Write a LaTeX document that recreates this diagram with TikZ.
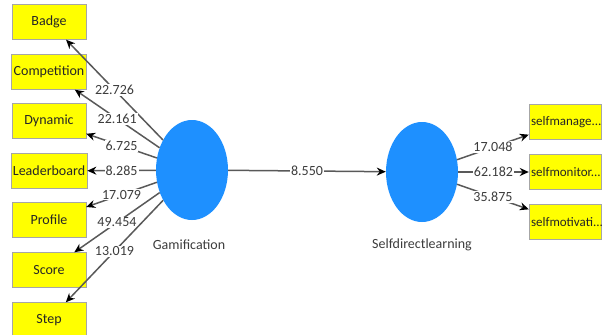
\documentclass[tikz,border=0pt]{standalone}
\usepackage{fontspec}
\setmainfont{Carlito}
\usepackage{tikz}
\usetikzlibrary{arrows.meta, shapes.geometric, positioning}
\definecolor{lvblue}{RGB}{30,144,255}
\definecolor{boxyellow}{RGB}{255,255,0}
\definecolor{numgray}{RGB}{60,60,60}
\begin{document}
\begin{tikzpicture}[x=1pt,y=-1pt,
    indbox/.style={draw=gray!70,fill=boxyellow,minimum width=74pt,minimum height=35pt,inner sep=2pt,text=black!85,font=\fontsize{14}{15}\selectfont},
    latent/.style={ellipse,fill=lvblue,minimum width=72pt,minimum height=100pt},
    path/.style={draw=gray!70!black,line width=1.5pt,-{Stealth[black,length=9pt,width=8pt]}},
    coef/.style={midway,fill=white,inner sep=1pt,text=numgray,font=\fontsize{14}{15}\selectfont}]

            % Khung hình
            \useasboundingbox (0,0) rectangle (603,335);

            % Vẽ hai biến tiềm ẩn
            \node[latent] (gam) at (192,170) {};
            \node[latent] (sdl) at (422,172) {};
            \node[text=numgray,font=\fontsize{14}{15}\selectfont] (gamlab) at (189,245) {Gamification};
            \node[text=numgray,font=\fontsize{14}{15}\selectfont] (sdllab) at (422,245) {Selfdirectlearning};

            % Vẽ các chỉ báo bên trái
            \node[indbox] (badge) at (49,22) {Badge};
            \node[indbox] (comp) at (49,72) {Competition};
            \node[indbox] (dyn) at (49,121) {Dynamic};
            \node[indbox] (lead) at (49,171) {Leaderboard};
            \node[indbox] (prof) at (49,220) {Profile};
            \node[indbox] (score) at (49,270) {Score};
            \node[indbox] (step) at (49,320) {Step};

            % Vẽ các chỉ báo bên phải
            \node[indbox,minimum width=72pt,text width=68pt,align=left,font=\fontsize{13}{14}\selectfont] (sman) at (565,122) {selfmanage...};
            \node[indbox,minimum width=72pt,text width=68pt,align=left,font=\fontsize{13}{14}\selectfont] (smon) at (565,172) {selfmonitor...};
            \node[indbox,minimum width=72pt,text width=68pt,align=left,font=\fontsize{13}{14}\selectfont] (smot) at (565,222) {selfmotivati...};

            % Mũi tên từ Gamification
            \draw[path] (gam) -- (badge) node[coef] {22.726};
            \draw[path] (gam) -- (comp) node[coef] {22.161};
            \draw[path] (gam) -- (dyn) node[coef] {6.725};
            \draw[path] (gam) -- (lead) node[coef] {8.285};
            \draw[path] (gam) -- (prof) node[coef] {17.079};
            \draw[path] (gam) -- (score) node[coef] {49.454};
            \draw[path] (gam) -- (step) node[coef] {13.019};

            % Mũi tên giữa hai biến
            \draw[path] (gam) -- (sdl) node[coef] {8.550};

            % Mũi tên từ Selfdirectlearning
            \draw[path] (sdl) -- (sman) node[coef] {17.048};
            \draw[path] (sdl) -- (smon) node[coef] {62.182};
            \draw[path] (sdl) -- (smot) node[coef] {35.875};

            \end{tikzpicture}
\end{document}
